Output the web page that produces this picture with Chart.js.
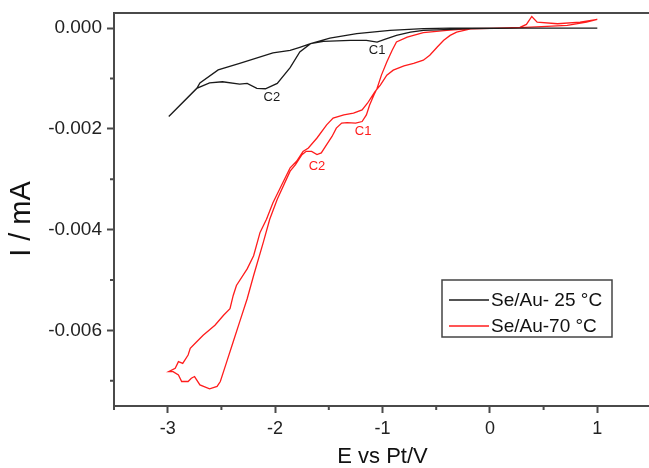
<!DOCTYPE html>
<html>
<head>
<meta charset="utf-8">
<script src="https://cdn.jsdelivr.net/npm/chart.js@4.4.1/dist/chart.umd.min.js"></script>
<style>
  html, body { margin: 0; padding: 0; background: #fff; overflow: hidden; }
  #wrap { width: 649px; height: 468px; overflow: hidden; }
  canvas { display: block; }
</style>
</head>
<body>
<div id="wrap"><canvas id="cv" width="652" height="468"></canvas></div>
<script>
// cyclic voltammograms, E in V vs Pt, I in mA
// 25 C: cathodic scan from +1 V down to -3 V, then back
const blackE = [1.00, 0.28, -0.18, -0.43, -0.62, -0.74, -0.87, -0.98, -1.05, -1.15, -1.30, -1.55, -1.67, -1.77, -1.86,
  -1.98, -2.09, -2.17, -2.26, -2.33, -2.49, -2.61, -2.73, -2.99,
  -2.73, -2.70, -2.53, -2.33, -2.02, -1.86, -1.77, -1.67, -1.49, -1.24, -0.93, -0.62, -0.37, 1.00];
const blackI = [0, 0, -0.00001, -0.00003, -0.000045, -0.00008, -0.000144, -0.000223, -0.000276, -0.000243, -0.000243, -0.000262, -0.000308, -0.000473, -0.000785,
  -0.001097, -0.001203, -0.001195, -0.001097, -0.00111, -0.001065, -0.001085, -0.001195, -0.001755,
  -0.0012, -0.00109, -0.00083, -0.0007, -0.00049, -0.00044, -0.00038, -0.00031, -0.0002, -0.00011, -0.000045, -0.000012, 0, 0];

// 70 C: same loop
const redE = [1.00, 0.90, 0.72, 0.53, 0.28, 0.00, -0.18, -0.40, -0.62, -0.77, -0.87, -0.91, -0.96, -1.01, -1.05, -1.08,
  -1.12, -1.15, -1.19, -1.25, -1.33, -1.38, -1.43, -1.47, -1.52, -1.57, -1.61, -1.66, -1.71, -1.75, -1.81, -1.86,
  -1.98, -2.05, -2.11, -2.20, -2.26, -2.33, -2.39, -2.45, -2.51, -2.54, -2.61, -2.70, -2.75, -2.78, -2.81, -2.87,
  -2.90, -2.95, -2.99,
  -2.93, -2.90, -2.86, -2.81, -2.79, -2.73, -2.67, -2.56, -2.48, -2.42, -2.39, -2.36, -2.26, -2.20, -2.14, -2.08,
  -2.02, -1.86, -1.80, -1.74, -1.69, -1.61, -1.52, -1.46, -1.36, -1.27, -1.19, -1.14, -1.10, -1.07, -1.02, -0.96,
  -0.90, -0.80, -0.71, -0.62, -0.56, -0.49, -0.43, -0.37, -0.31, -0.18, 0.00, 0.28, 0.34, 0.39, 0.44, 0.63, 0.84, 1.00];
const redI = [0.000172, 0.000118, 0.000053, 0.000034, 0.000008, -0.000006, -0.000012, -0.000045, -0.000091, -0.000178, -0.000276, -0.00044, -0.000671, -0.000933, -0.001195, -0.001327,
  -0.001525, -0.001722, -0.001854, -0.001886, -0.001874, -0.001886, -0.001984, -0.00215, -0.002314, -0.002477, -0.002511, -0.002446, -0.002446, -0.002511, -0.002708, -0.00284,
  -0.003398, -0.003793, -0.004252, -0.004911, -0.005371, -0.00583, -0.006225, -0.006619, -0.007014, -0.007112, -0.00716, -0.007081, -0.006915, -0.006949, -0.007014, -0.007014,
  -0.006884, -0.006817, -0.006817,
  -0.006753, -0.006619, -0.006653, -0.006489, -0.006357, -0.006225, -0.006095, -0.005897, -0.0057, -0.005568, -0.005306, -0.005108, -0.004779, -0.004517, -0.004055, -0.003793,
  -0.003464, -0.002773, -0.002643, -0.002446, -0.002379, -0.002181, -0.001919, -0.001787, -0.001722, -0.001688, -0.001623, -0.001491, -0.001361, -0.001262, -0.00113, -0.000933,
  -0.000834, -0.00075, -0.000702, -0.000637, -0.000538, -0.000375, -0.000243, -0.000144, -0.000079, -0.000016, -0.000006, 0.000014, 0.000073, 0.000231, 0.000118, 0.000087, 0.000118, 0.000172];

const seriesLabels = ["Se/Au- 25 °C", "Se/Au-70 °C"];
const seriesColors = ["#1a1a1a", "#ff1c1c"];

// peak labels
const peakText = ["C1", "C2", "C1", "C2"];
const peakE = [-1.05, -2.03, -1.18, -1.61];
const peakI = [-0.00044, -0.00138, -0.00206, -0.00274];
const peakSeries = [0, 0, 1, 1];

const xTicks = [-3, -2, -1, 0, 1];
const xMinor = [-3.5, -2.5, -1.5, -0.5, 0.5, 1.5];
const yTicks = [0, -0.002, -0.004, -0.006];
const yMinor = [-0.001, -0.003, -0.005, -0.007];

const xTitle = "E vs Pt/V";
const yTitle = "I / mA";

const axisColor = "#4a4a4a";
const fontFam = '"Liberation Sans", Arial, sans-serif';

function toPoints(es, is) {
  return es.map((e, k) => ({ x: e, y: is[k] }));
}

const extras = {
  id: "extras",
  afterDraw(chart) {
    const { ctx, chartArea: a, scales: { x, y } } = chart;
    ctx.save();
    // frame top + right
    ctx.strokeStyle = axisColor;
    ctx.lineWidth = 2;
    ctx.beginPath();
    ctx.moveTo(a.left - 1, a.top);
    ctx.lineTo(a.right, a.top);
    ctx.lineTo(a.right, a.bottom);
    ctx.stroke();
    // minor ticks
    ctx.beginPath();
    xMinor.forEach(v => {
      const px = x.getPixelForValue(v);
      ctx.moveTo(px, a.bottom);
      ctx.lineTo(px, a.bottom + 4);
    });
    yMinor.forEach(v => {
      const py = y.getPixelForValue(v);
      ctx.moveTo(a.left, py);
      ctx.lineTo(a.left - 4, py);
    });
    ctx.stroke();
    // y title, sits a bit below the middle in the original
    ctx.save();
    ctx.translate(22, 219);
    ctx.rotate(-Math.PI / 2);
    ctx.font = "29px " + fontFam;
    ctx.fillStyle = "#111";
    ctx.textAlign = "center";
    ctx.textBaseline = "middle";
    ctx.fillText(yTitle, 0, 0);
    ctx.restore();
    // peak labels
    ctx.font = "13px " + fontFam;
    ctx.textAlign = "center";
    ctx.textBaseline = "middle";
    peakText.forEach((t, k) => {
      ctx.fillStyle = seriesColors[peakSeries[k]];
      ctx.fillText(t, x.getPixelForValue(peakE[k]), y.getPixelForValue(peakI[k]));
    });
    // legend box
    ctx.fillStyle = "#fff";
    ctx.fillRect(442, 280, 170, 57);
    ctx.lineWidth = 1.5;
    ctx.strokeStyle = "#444";
    ctx.strokeRect(442, 280, 170, 57);
    ctx.font = "19px " + fontFam;
    ctx.textAlign = "left";
    seriesLabels.forEach((lbl, k) => {
      const ly = 300 + k * 26;
      ctx.strokeStyle = seriesColors[k];
      ctx.lineWidth = 1.3;
      ctx.beginPath();
      ctx.moveTo(449, ly);
      ctx.lineTo(489, ly);
      ctx.stroke();
      ctx.fillStyle = "#111";
      ctx.fillText(lbl, 491, ly + 1);
    });
    ctx.restore();
  }
};

new Chart(document.getElementById("cv"), {
  type: "scatter",
  data: {
    datasets: [
      {
        label: seriesLabels[0],
        data: toPoints(blackE, blackI),
        showLine: true,
        borderColor: seriesColors[0],
        borderWidth: 1.3,
        pointRadius: 0,
        tension: 0
      },
      {
        label: seriesLabels[1],
        data: toPoints(redE, redI),
        showLine: true,
        borderColor: seriesColors[1],
        borderWidth: 1.3,
        pointRadius: 0,
        tension: 0
      }
    ]
  },
  options: {
    responsive: false,
    animation: false,
    devicePixelRatio: 1,
    layout: { padding: { top: 13, right: 1, left: 0, bottom: 0 } },
    plugins: { legend: { display: false }, tooltip: { enabled: false } },
    scales: {
      x: {
        type: "linear",
        min: -3.5,
        max: 1.5,
        afterBuildTicks: s => { s.ticks = xTicks.map(v => ({ value: v })); },
        afterFit: s => { s.height = 62; s.paddingLeft = 0; s.paddingRight = 0; },
        ticks: { color: "#222", font: { size: 18, family: fontFam }, padding: 5, callback: v => String(v) },
        grid: { drawOnChartArea: false, drawTicks: true, tickLength: 7, tickWidth: 2, tickColor: axisColor },
        border: { color: axisColor, width: 2 },
        title: { display: true, text: xTitle, color: "#111", font: { size: 22, family: fontFam, lineHeight: 1 }, padding: { top: 0, bottom: 0 } }
      },
      y: {
        type: "linear",
        min: -0.0075,
        max: 0.0003,
        afterBuildTicks: s => { s.ticks = yTicks.map(v => ({ value: v })); },
        afterFit: s => { s.width = 114; s.paddingTop = 0; s.paddingBottom = 0; },
        ticks: { color: "#222", font: { size: 19, family: fontFam }, padding: 5, callback: v => v.toFixed(3) },
        grid: { drawOnChartArea: false, drawTicks: true, tickLength: 7, tickWidth: 2, tickColor: axisColor },
        border: { color: axisColor, width: 2 }
      }
    }
  },
  plugins: [extras]
});
</script>
</body>
</html>
